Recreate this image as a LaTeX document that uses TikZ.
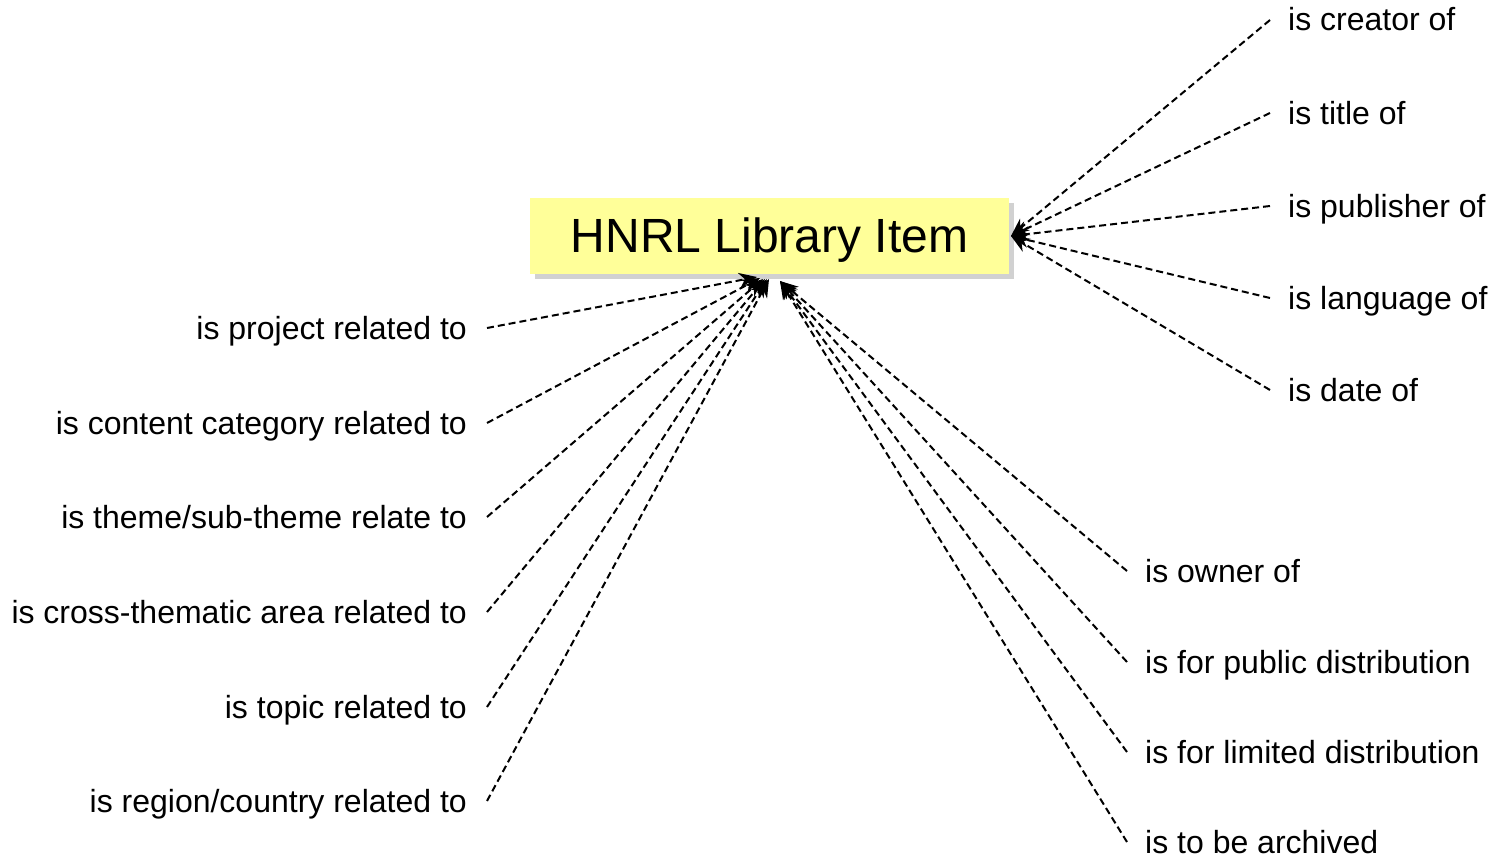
\documentclass[tikz,border=0pt]{standalone}
\usepackage{fontspec}
\setmainfont{Liberation Sans}
\usetikzlibrary{arrows.meta,shadows}
\begin{document}
\begin{tikzpicture}[x=1pt,y=-1pt,
  lbl/.style={font=\fontsize{32}{38}\selectfont, inner sep=0pt, text height=22pt, text depth=0pt},
  rel/.style={draw=black, line width=2pt, dash pattern=on 7pt off 4pt, -{Stealth[length=18pt,width=15pt]}},
  item/.style={draw=none, fill={rgb,255:red,255;green,255;blue,153}, minimum width=479pt, minimum height=76pt,
    text height=40pt, text depth=8pt,
    font=\fontsize{48}{56}\selectfont, drop shadow={shadow xshift=5pt, shadow yshift=-5pt, fill=gray!60, opacity=0.6}}
]
\useasboundingbox (0,0) rectangle (1494,859);
\node[item] (box) at (769.5,236) {HNRL Library Item};
% left labels
\node[lbl, anchor=east] (l1) at (467,328) {is project related to};
\node[lbl, anchor=east] (l2) at (467,423) {is content category related to};
\node[lbl, anchor=east] (l3) at (467,517) {is theme/sub-theme relate to};
\node[lbl, anchor=east] (l4) at (467,612) {is cross-thematic area related to};
\node[lbl, anchor=east] (l5) at (467,707) {is topic related to};
\node[lbl, anchor=east] (l6) at (467,801) {is region/country related to};
% right top labels
\node[lbl, anchor=west] (r1) at (1288,20) {is creator of};
\node[lbl, anchor=west] (r2) at (1288,113) {is title of};
\node[lbl, anchor=west] (r3) at (1288,206) {is publisher of};
\node[lbl, anchor=west] (r4) at (1288,298) {is language of};
\node[lbl, anchor=west] (r5) at (1288,390) {is date of};
% right bottom labels
\node[lbl, anchor=west] (b1) at (1145,571) {is owner of};
\node[lbl, anchor=west] (b2) at (1145,662) {is for public distribution};
\node[lbl, anchor=west] (b3) at (1145,752) {is for limited distribution};
\node[lbl, anchor=west] (b4) at (1145,842) {is to be archived};
% end coordinates
\coordinate (pr) at (1011,236);
\coordinate (pl1) at (757,277);
\coordinate (pl2) at (760,278);
\coordinate (pl3) at (763,279);
\coordinate (pl4) at (765,279);
\coordinate (pl5) at (767,279);
\coordinate (pl6) at (769,279);
\coordinate (pb) at (780,281);
% connectors
\foreach \n in {1,...,6} \draw[rel] ([xshift=20pt]l\n.east) -- (pl\n);
\foreach \n in {1,...,5} \draw[rel] ([xshift=-18pt]r\n.west) -- (pr);
\foreach \n in {1,...,4} \draw[rel] ([xshift=-18pt]b\n.west) -- (pb);
\end{tikzpicture}
\end{document}
